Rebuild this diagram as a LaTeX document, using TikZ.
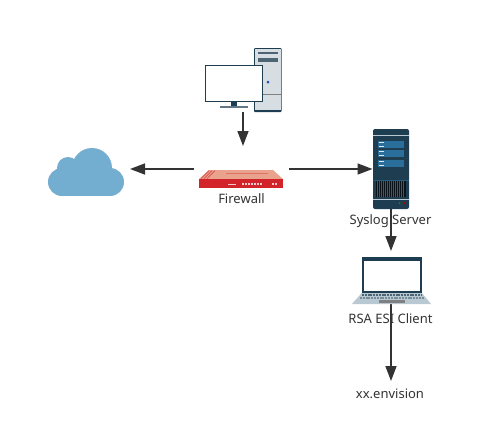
\documentclass[tikz,border=0pt]{standalone}
\usepackage{fontspec}
\usepackage{xcolor}
\setmainfont{Noto Sans}
\usetikzlibrary{arrows.meta}
\definecolor{linegray}{HTML}{333333}
\definecolor{textgray}{HTML}{333333}
\definecolor{cloudblue}{HTML}{73ADD0}
\definecolor{navy}{HTML}{1F3D50}
\definecolor{barblue}{HTML}{2A6E9C}
\definecolor{towergray}{HTML}{D6DEE3}
\definecolor{fwred}{HTML}{D2232A}
\definecolor{fwtop}{HTML}{E9A38C}
\definecolor{keygray}{HTML}{B9C9D3}
\tikzset{
  icon/.style={inner sep=0pt, outer sep=0pt},
  label/.style={text=textgray, font=\fontsize{13pt}{15pt}\selectfont, inner sep=0pt},
  conn/.style={draw=linegray, line width=1.5pt, -{Stealth[length=15pt, width=11pt, inset=0pt]}},
}
\begin{document}
\begin{tikzpicture}[x=1pt, y=-1pt]
\useasboundingbox (0, 0) rectangle (498, 440);
% invisible boxes the arrows attach to
\node[icon, minimum width=76pt, minimum height=64pt] (pc) at (243, 80) {};
\node[icon, minimum width=95pt, minimum height=46pt] (firewall) at (241.5, 169) {};
\node[icon, minimum width=82pt, minimum height=48pt] (cloud) at (89, 169) {};
\node[icon, minimum width=37pt, minimum height=80pt] (server) at (391, 169) {};
\node[icon, minimum width=79pt, minimum height=53pt] (laptop) at (391.5, 277.5) {};
\node[icon, minimum width=70pt, minimum height=26pt] (envision) at (390, 394) {};
% arrows
\draw[conn] (pc.south) -- (pc.south |- firewall.north);
\draw[conn] (firewall.west) -- (cloud.east);
\draw[conn] (firewall.east) -- (server.west);
\draw[conn] (server.south) -- (server.south |- laptop.north);
\draw[conn] (server.south |- laptop.south) -- (server.south |- envision.north);
% cloud
\fill[cloudblue] (62, 182) circle (14) (110, 182) circle (14) (92, 168) circle (20) (68, 168) circle (11);
\fill[cloudblue] (62, 172) rectangle (110, 196);
% tower
\fill[navy, rounded corners=1pt] (254, 48) rectangle (281.7, 112);
\fill[towergray] (255, 49) rectangle (280.8, 110.3);
\fill[navy!80] (258, 52) rectangle (278, 53.5);
\fill[navy!80] (258, 58) rectangle (278, 62);
\draw[gray, line width=0.5pt] (255, 94) -- (280.8, 94);
\fill[barblue!70!blue] (268, 82) circle (1.5);
% monitor
\draw[navy, fill=white, line width=1pt] (205.5, 65.5) rectangle (262, 101.5);
\fill[navy] (231, 102) rectangle (237, 106);
\fill[navy!70] (220, 106) rectangle (248, 107.5);
% firewall
\fill[fwtop] (209, 170) -- (273, 170) -- (283, 179) -- (199, 179) -- cycle;
\fill[fwred] (199, 178.5) rectangle (283, 187.5);
\foreach \xa in {209, 212, 215}
  \draw[fwred!70!fwtop, line width=0.7pt] (\xa, 170.5) -- ({\xa-8}, 178.5);
\draw[fwred!40!fwtop, line width=1pt] (226, 173) -- (268, 173);
\draw[white!75!fwred, line width=1pt] (228, 184) -- (236, 184);
\draw[white!75!fwred, line width=1.2pt, dash pattern=on 1.5pt off 1.5pt] (242, 184) -- (263, 184);
\draw[white!75!fwred, line width=1.2pt, dash pattern=on 1.5pt off 1.5pt] (272, 184) -- (278, 184);
% server
\fill[navy, rounded corners=2pt] (373, 129) rectangle (409, 209);
\fill[keygray] (373, 135.2) rectangle (409, 136.4);
\foreach \ya in {141, 150, 160} {
  \fill[barblue] (378, \ya) rectangle (404, {\ya+7.3});
  \fill[white!85!barblue] (379, {\ya+1.2}) rectangle (384, {\ya+2.2});
  \fill[white!85!barblue] (379, {\ya+4.8}) rectangle (384, {\ya+5.8});
}
\fill[barblue!60!navy] (373, 180) rectangle (409, 180.6);
\fill[black!70!navy] (376, 181) rectangle (406, 197.3);
\foreach \xb in {377.5, 379.5, ..., 405}
  \draw[barblue!70!navy, line width=0.4pt] (\xb, 181) -- (\xb, 197.3);
\fill[keygray] (373, 198.5) rectangle (409, 200);
\fill[green!60!black] (399.7, 203.2) circle (1);
\fill[red!70!black] (404.7, 203.2) circle (1);
% laptop
\fill[navy] (361.7, 256.7) rectangle (422, 293);
\fill[white] (363.5, 260.5) rectangle (420.3, 291);
\fill[keygray] (361.7, 293) -- (422, 293) -- (431, 304) -- (352, 304) -- cycle;
\draw[navy!80, line width=2pt, dash pattern=on 2pt off 0.8pt] (362, 295) -- (422, 295);
\draw[navy!60, line width=1.6pt, dash pattern=on 2pt off 0.8pt] (360, 298) -- (424, 298);
\fill[gray] (378.5, 299.5) rectangle (405, 302.5);
% labels
\node[label] (firewall label) at (241.5, 199) {Firewall};
\node[label] (server label) at (390.5, 221) {Syslog Server};
\node[label] (laptop label) at (390.5, 319) {RSA ESI Client};
\node[label] at (envision) {xx.envision};
\end{tikzpicture}
\end{document}
